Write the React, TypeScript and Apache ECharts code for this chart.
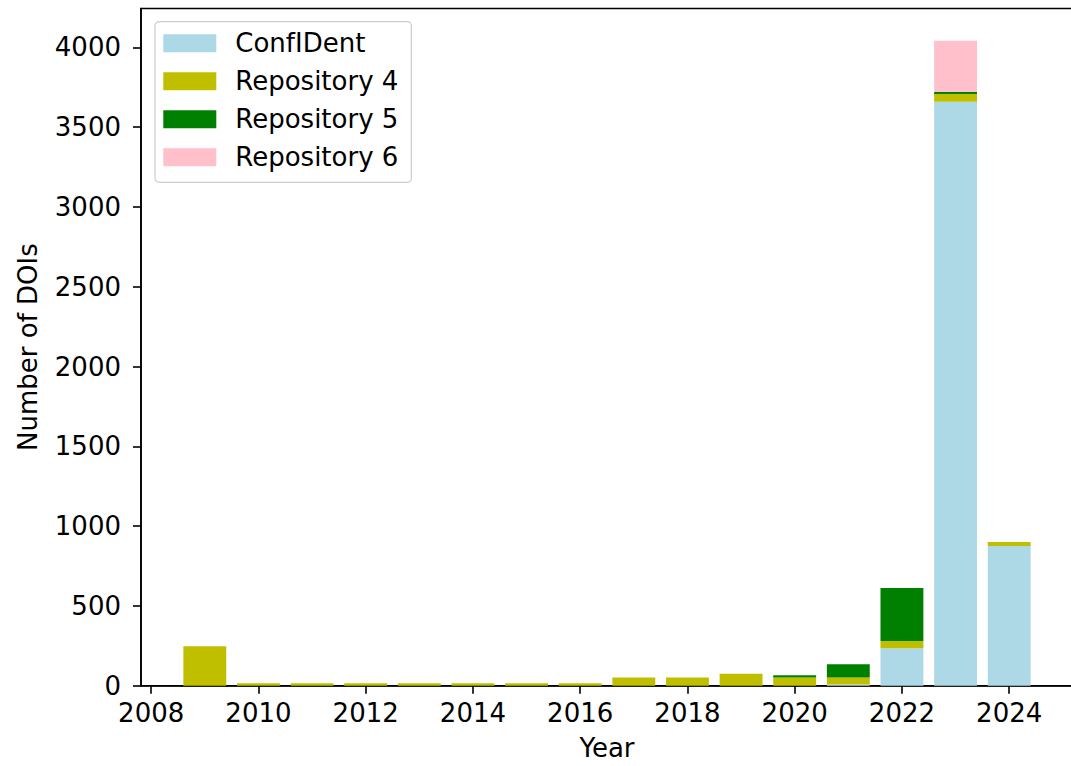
import React, { useEffect, useRef } from "react";
import * as echarts from "echarts";

const years = [2009, 2010, 2011, 2012, 2013, 2014, 2015, 2016, 2017, 2018, 2019, 2020, 2021, 2022, 2023, 2024];
const confIDent = [0, 0, 0, 0, 0, 0, 0, 0, 0, 0, 0, 0, 8, 234, 3660, 876];
const repository4 = [247, 15, 15, 15, 15, 15, 15, 15, 52, 52, 75, 52, 44, 46, 48, 24];
const repository5 = [0, 0, 0, 0, 0, 0, 0, 0, 0, 0, 0, 13, 82, 333, 13, 0];
const repository6 = [0, 0, 0, 0, 0, 0, 0, 0, 0, 0, 0, 0, 0, 0, 321, 0];
const xTicks = [2008, 2010, 2012, 2014, 2016, 2018, 2020, 2022, 2024];
const yTicks = [0, 500, 1000, 1500, 2000, 2500, 3000, 3500, 4000];

const seriesDefs = [
  { name: "ConfIDent", values: confIDent, color: "#ADD8E6" },
  { name: "Repository 4", values: repository4, color: "#BFBF00" },
  { name: "Repository 5", values: repository5, color: "#008000" },
  { name: "Repository 6", values: repository6, color: "#FFC0CB" },
];

const FONT = "DejaVu Sans";
const FS = 26;
const BAR_WIDTH = 0.8;

export default function App() {
  const ref = useRef<HTMLDivElement>(null);
  useEffect(() => {
    if (!ref.current) return;
    const chart = echarts.init(ref.current, null, { renderer: "svg" });
    const bases = years.map(() => 0);
    const stacked = seriesDefs.map((d) => {
      const rows = years.map((y, i) => {
        const b = bases[i];
        const t = b + d.values[i];
        bases[i] = t;
        return [y, b, t];
      });
      return { ...d, rows };
    });
    const maxTotal = Math.max(...bases);
    const yMax = maxTotal * 1.05;
    const xMin = years[0] - BAR_WIDTH / 2;
    const xMax = years[years.length - 1] + BAR_WIDTH / 2;
    const xPad = (xMax - xMin) * 0.05;
    const fmt = (v: number) => String(v);
    chart.setOption({
      animation: false,
      backgroundColor: "#ffffff",
      textStyle: { fontFamily: FONT },
      grid: {
        left: 141,
        right: 7,
        top: 8.5,
        bottom: 80.3,
        show: true,
        borderColor: "#000",
        borderWidth: 1.6,
        backgroundColor: "transparent",
      },
      legend: {
        orient: "vertical",
        left: 155,
        top: 21.7,
        data: seriesDefs.map((d) => d.name),
        itemWidth: 53,
        itemHeight: 18,
        itemGap: 12,
        icon: "rect",
        padding: [8.6, 13, 12, 8.3],
        borderColor: "#cccccc",
        borderWidth: 1.2,
        borderRadius: 4,
        backgroundColor: "rgba(255,255,255,0.8)",
        textStyle: { fontFamily: FONT, fontSize: FS, color: "#000", padding: [0, 0, 0, 14] },
      },
      xAxis: {
        type: "value",
        min: xMin - xPad,
        max: xMax + xPad,
        name: "Year",
        nameLocation: "middle",
        nameGap: 49,
        nameTextStyle: { fontFamily: FONT, fontSize: FS, color: "#000" },
        splitLine: { show: false },
        axisLine: { show: true, onZero: false, lineStyle: { color: "#000", width: 1.6 } },
        axisTick: { show: true, length: 8, lineStyle: { color: "#000", width: 1.6 }, customValues: xTicks },
        axisLabel: { fontFamily: FONT, fontSize: FS, color: "#000", margin: 14, customValues: xTicks, formatter: fmt },
      },
      yAxis: {
        type: "value",
        min: 0,
        max: yMax,
        name: "Number of DOIs",
        nameLocation: "middle",
        nameGap: 100,
        nameTextStyle: { fontFamily: FONT, fontSize: FS, color: "#000" },
        splitLine: { show: false },
        axisLine: { show: true, lineStyle: { color: "#000", width: 1.6 } },
        axisTick: { show: true, length: 8, lineStyle: { color: "#000", width: 1.6 }, customValues: yTicks },
        axisLabel: { fontFamily: FONT, fontSize: FS, color: "#000", margin: 20, customValues: yTicks, formatter: fmt },
      },
      series: stacked.map((d) => ({
        name: d.name,
        type: "custom",
        itemStyle: { color: d.color },
        encode: { x: 0, y: [1, 2] },
        data: d.rows,
        renderItem: (params: any, api: any) => {
          const x = api.value(0);
          const b = api.value(1);
          const t = api.value(2);
          if (t - b <= 0) return null;
          const p0 = api.coord([x - BAR_WIDTH / 2, t]);
          const p1 = api.coord([x + BAR_WIDTH / 2, b]);
          return {
            type: "rect",
            shape: { x: p0[0], y: p0[1], width: p1[0] - p0[0], height: p1[1] - p0[1] },
            style: { fill: d.color },
          };
        },
      })),
    });
    return () => chart.dispose();
  }, []);
  return (
    <div
      ref={ref}
      style={{ position: "fixed", left: 0, top: 0, width: 1080, height: 766, background: "#fff" }}
    />
  );
}
